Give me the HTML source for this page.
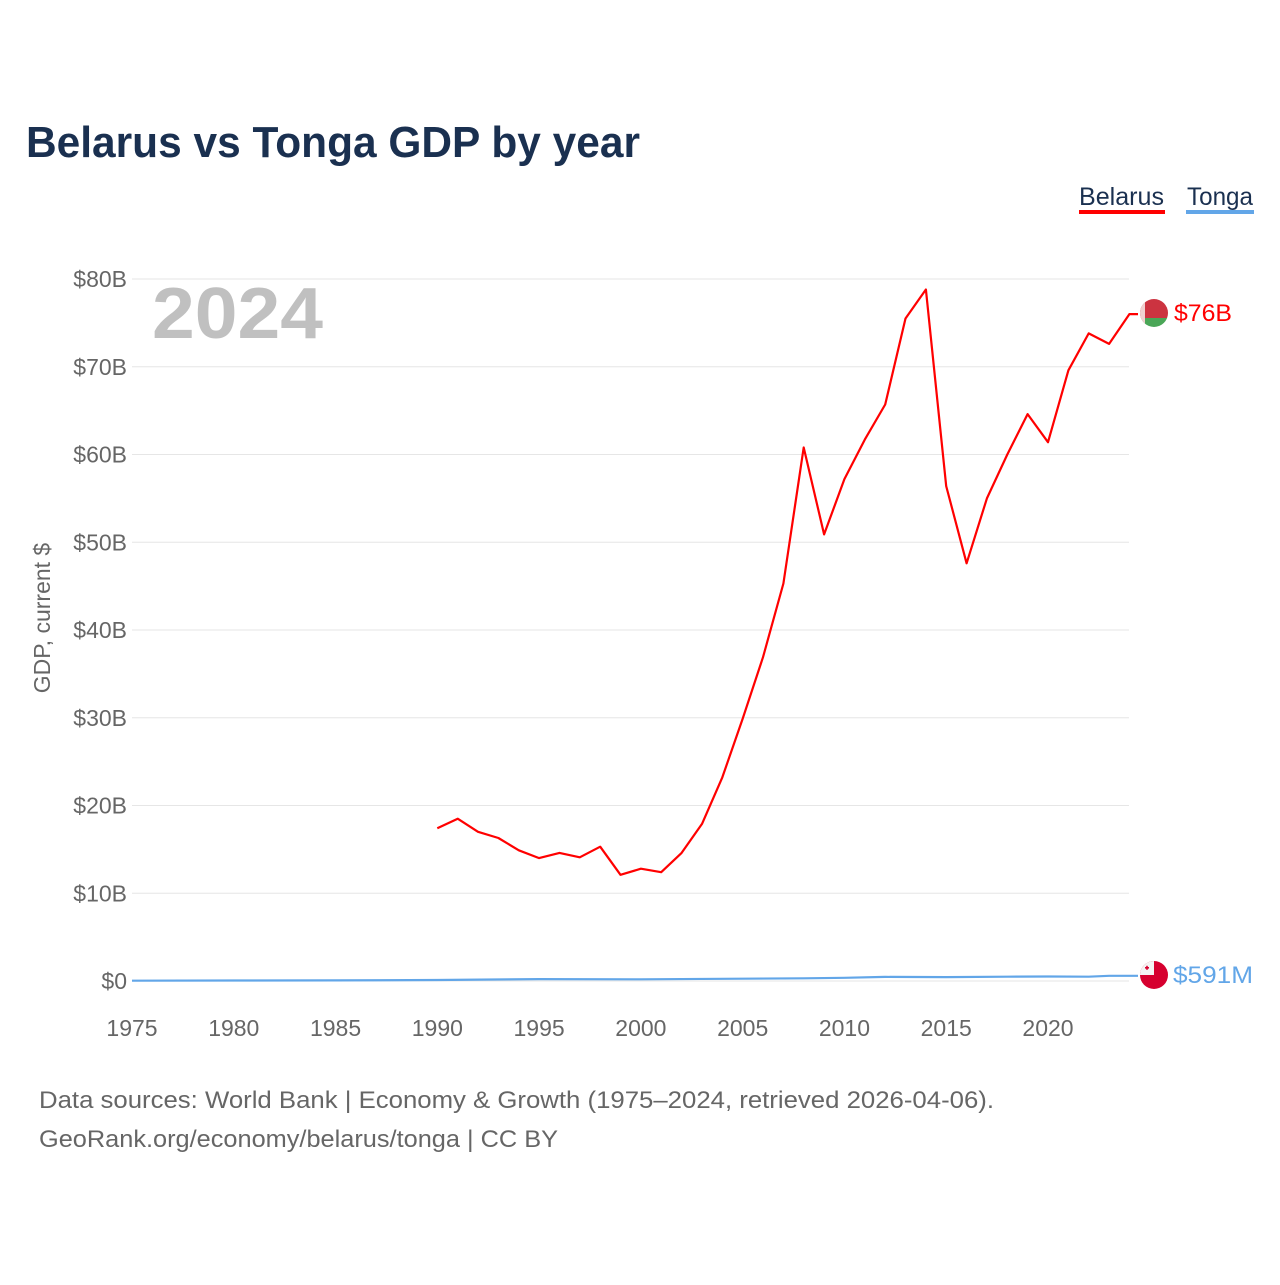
<!DOCTYPE html>
<html><head><meta charset="utf-8">
<style>
html,body{margin:0;padding:0;background:#fff;}
body{width:1280px;height:1280px;position:relative;overflow:hidden;font-family:"Liberation Sans",sans-serif;}
svg text{font-family:"Liberation Sans",sans-serif;}
</style></head>
<body>
<svg id="chart" width="1280" height="1280" xmlns="http://www.w3.org/2000/svg">
<text x="26" y="157" font-size="44" font-weight="bold" fill="#1a3050" textLength="614" lengthAdjust="spacingAndGlyphs">Belarus vs Tonga GDP by year</text>
<g>
<text x="1079" y="205" font-size="25" fill="#1a3050" textLength="85" lengthAdjust="spacingAndGlyphs">Belarus</text>
<rect x="1079" y="210" width="86" height="4" fill="#ff0000"/>
<text x="1187" y="205" font-size="25" fill="#1a3050" textLength="66" lengthAdjust="spacingAndGlyphs">Tonga</text>
<rect x="1186" y="210" width="68" height="4" fill="#62a6e8"/>
</g>
<g id="grid"></g>
<g id="yticks"></g>
<g id="xticks"></g>
<text x="152" y="338" font-size="72" font-weight="bold" fill="#c0c0c0" textLength="171" lengthAdjust="spacingAndGlyphs">2024</text>
<text transform="translate(50,618) rotate(-90)" text-anchor="middle" font-size="23" fill="#666">GDP, current $</text>
<g id="series"></g>
<g>
<clipPath id="cb"><circle cx="1154" cy="313" r="14"/></clipPath>
<g clip-path="url(#cb)"><rect x="1140" y="299" width="28" height="19" fill="#cc3340"/><rect x="1140" y="318" width="28" height="10" fill="#4aa657"/><rect x="1140" y="299" width="5" height="29" fill="#f0d0d0"/></g>
</g>
<g>
<clipPath id="ct"><circle cx="1154" cy="975" r="14"/></clipPath>
<g clip-path="url(#ct)"><rect x="1140" y="961" width="28" height="28" fill="#d6002f"/><rect x="1140" y="961" width="14" height="14" fill="#f4f4f4"/><rect x="1145" y="967" width="4" height="1.6" fill="#d6002f"/><rect x="1146.2" y="965.8" width="1.6" height="4" fill="#d6002f"/></g>
</g>
<text x="1174" y="321" font-size="24" fill="#ff0000" textLength="58" lengthAdjust="spacingAndGlyphs">$76B</text>
<text x="1173" y="983" font-size="24" fill="#62a6e8" textLength="80" lengthAdjust="spacingAndGlyphs">$591M</text>
<text x="39" y="1108" font-size="24" fill="#666" textLength="955" lengthAdjust="spacingAndGlyphs">Data sources: World Bank | Economy &amp; Growth (1975–2024, retrieved 2026-04-06).</text>
<text x="39" y="1147" font-size="24" fill="#666" textLength="519" lengthAdjust="spacingAndGlyphs">GeoRank.org/economy/belarus/tonga | CC BY</text>
</svg>
<script>
const belarusYears=[1990,1991,1992,1993,1994,1995,1996,1997,1998,1999,2000,2001,2002,2003,2004,2005,2006,2007,2008,2009,2010,2011,2012,2013,2014,2015,2016,2017,2018,2019,2020,2021,2022,2023,2024];
const belarusGdp=[17.4,18.5,17.0,16.3,14.9,14.0,14.6,14.1,15.3,12.1,12.8,12.4,14.6,17.9,23.2,29.9,36.9,45.3,60.8,50.9,57.2,61.7,65.7,75.5,78.8,56.4,47.6,55.0,60.0,64.6,61.4,69.6,73.8,72.6,76.0];
const tongaYears=[1975,1980,1985,1990,1995,2000,2005,2008,2010,2012,2015,2018,2020,2022,2023,2024];
const tongaGdp=[0.03,0.06,0.07,0.11,0.22,0.19,0.26,0.31,0.37,0.47,0.44,0.49,0.51,0.49,0.59,0.591];
const yTicks=[0,10,20,30,40,50,60,70,80];
const yTickLabels=["$0","$10B","$20B","$30B","$40B","$50B","$60B","$70B","$80B"];
const xTicks=[1975,1980,1985,1990,1995,2000,2005,2010,2015,2020];

const NS="http://www.w3.org/2000/svg";
const x=yr=>132+(yr-1975)*(1048-132)/45;
const y=v=>981-v*(981-279)/80;
function mk(tag,attrs,parent){const e=document.createElementNS(NS,tag);for(const k in attrs)e.setAttribute(k,attrs[k]);document.getElementById(parent).appendChild(e);return e;}

yTicks.forEach((v,i)=>{
  const l=mk('line',{x1:132,x2:1129,y1:y(v),y2:y(v),stroke:'#e6e6e6','stroke-width':1},'grid');
  
  
  const t=mk('text',{x:127,y:y(v)+8,'text-anchor':'end','font-size':23,fill:'#666'},'yticks');
  
  
  t.textContent=yTickLabels[i];
});
xTicks.forEach(yr=>{
  const t=mk('text',{x:x(yr),y:1036,'text-anchor':'middle','font-size':23,fill:'#666'},'xticks');
  
  
  t.textContent=yr;
});
function line(years,vals,color,name){
  let d=years.map((yr,i)=>(i?'L':'M')+x(yr).toFixed(1)+','+y(vals[i]).toFixed(1)).join(' ');
  d+=' L1138,'+y(vals[vals.length-1]).toFixed(1);
  const p=mk('path',{d:d,fill:'none',stroke:color,'stroke-width':2.2,'stroke-linejoin':'round'},'series');
  
  
}
line(tongaYears,tongaGdp,'#62a6e8','tonga-line');
line(belarusYears,belarusGdp,'#ff0000','belarus-line');
</script>
</body></html>
